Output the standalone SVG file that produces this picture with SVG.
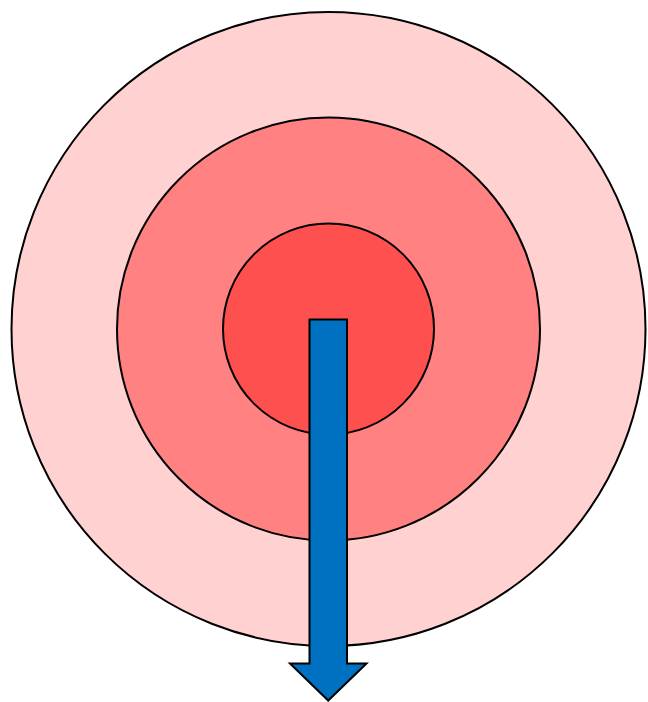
<svg xmlns="http://www.w3.org/2000/svg" width="648" height="702" viewBox="0 0 648 702">
<style>
.ring{stroke:#000;stroke-width:2}
.arrow{fill:#0070C0;stroke:#000;stroke-width:2;stroke-linejoin:miter}
</style>
<rect width="648" height="702" fill="#fff"/>
<g id="outer"><circle class="ring" cx="328.5" cy="329" r="317" fill="#FFD1D1"/></g>
<g id="middle"><circle class="ring" cx="328.5" cy="329" r="211.5" fill="#FF8181"/></g>
<g id="inner"><circle class="ring" cx="328.5" cy="329" r="105.5" fill="#FF5050"/></g>
<g id="connectors">
<path class="arrow" d="M309.5,319.5 H347 V663.5 H366.5 L328.2,700.5 L290,663.5 H309.5 Z"/>
</g>
</svg>
